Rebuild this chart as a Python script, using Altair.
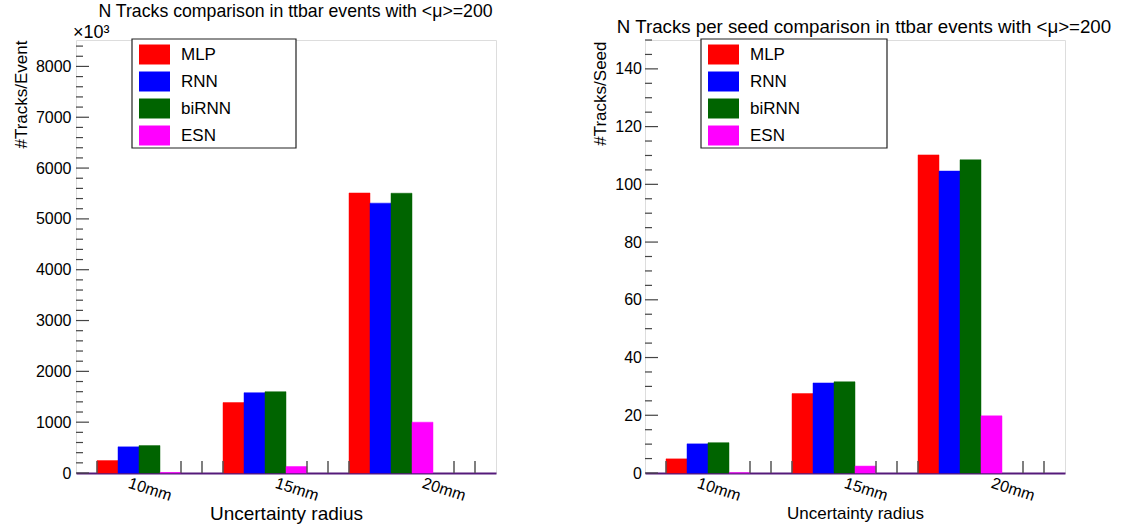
import altair as alt
import pandas as pd

categories = ["10mm", "15mm", "20mm"]
models = ["MLP", "RNN", "biRNN", "ESN"]
colors = ["#ff0000", "#0000ff", "#006400", "#ff00ff"]

# N tracks per event (axis in units of 10^3)
event_mlp = [245, 1385, 5510]
event_rnn = [515, 1580, 5310]
event_birnn = [540, 1600, 5505]
event_esn = [10, 128, 1000]

# N tracks per seed
seed_mlp = [4.9, 27.5, 110.2]
seed_rnn = [10.1, 31.2, 104.6]
seed_birnn = [10.5, 31.6, 108.5]
seed_esn = [0.1, 2.4, 19.8]

FONT = "Liberation Sans"
W, H = 420, 433


def make_df(series):
    rows = []
    for m_i, (model, vals) in enumerate(zip(models, series)):
        for g_i, (cat, v) in enumerate(zip(categories, vals)):
            rows.append({"cat": cat, "g": g_i, "model": model, "m": m_i, "value": v})
    return pd.DataFrame(rows)


def panel(df, ymax, major_step, minor_step, ytitle, title, title_size, title_dx, title_offset,
          legend_right, tick_font, label_pad, ytitle_font, ytitle_x, ytitle_y, xtitle_font,
          extra_text=None):
    label_slots = [3.5, 10.5, 17.5]
    label_expr = " : ".join(
        f"datum.value == {s} ? '{c}'" for s, c in zip(label_slots, categories)
    ) + " : ''"
    yscale = alt.Scale(domain=[0, ymax], nice=False, zero=True)
    xscale = alt.Scale(domain=[0, 20], nice=False, zero=False)

    bars = alt.Chart(df).transform_calculate(
        xs="datum.g * 6 + datum.m + 1", xe="datum.g * 6 + datum.m + 2"
    ).mark_rect(strokeWidth=0.8, strokeOpacity=0.6).encode(
        x=alt.X("xs:Q", scale=xscale,
                axis=alt.Axis(values=label_slots, labelExpr=label_expr, ticks=False, domain=True,
                              domainColor="#551a7a", domainWidth=2,
                              grid=False, labelAngle=18, labelAlign="center", labelBaseline="middle",
                              labelPadding=16, labelFontSize=16, labelFont=FONT, labelColor="black",
                              title="Uncertainty radius", titleFont=FONT, titleFontSize=xtitle_font,
                              titleFontWeight="normal", titleColor="black", titleBaseline="middle",
                              titleY=40)),
        x2="xe:Q",
        y=alt.Y("value:Q", scale=yscale,
                axis=alt.Axis(values=list(range(0, int(ymax) + 1, major_step)), format="d",
                              ticks=False, domain=False, grid=False, labelPadding=label_pad,
                              labelFontSize=tick_font, labelFont=FONT, labelColor="black",
                              title=ytitle, titleFont=FONT, titleFontSize=ytitle_font,
                              titleFontWeight="normal", titleColor="black", titleAnchor="end",
                              titleAlign="right", titleAngle=270, titleBaseline="top",
                              titleX=ytitle_x, titleY=ytitle_y)),
        y2=alt.datum(0),
        color=alt.Color("model:N", scale=alt.Scale(domain=models, range=colors),
                        legend=alt.Legend(orient="none", legendX=63, legendY=-1, title=None,
                                          symbolType="M-1,-0.645H1V0.645H-1Z", symbolSize=961,
                                          symbolStrokeWidth=0, symbolOpacity=1, padding=0,
                                          labelFont=FONT, labelFontSize=17, labelColor="black",
                                          labelOffset=11, rowPadding=1)),
        stroke=alt.Color("model:N", scale=alt.Scale(domain=models, range=colors), legend=None),
    )

    box = alt.Chart(pd.DataFrame({"a": [0]})).mark_rect(
        fill="white", stroke="#222", strokeWidth=1.2
    ).encode(x=alt.value(56), x2=alt.value(legend_right), y=alt.value(-1), y2=alt.value(108))

    majors = list(range(0, int(ymax) + 1, major_step))
    minors = [v for v in range(0, int(ymax) + 1, minor_step) if v % major_step != 0]
    ymaj = alt.Chart(pd.DataFrame({"value": majors})).mark_rule(color="#444", strokeWidth=1.2).encode(
        y=alt.Y("value:Q", scale=yscale), x=alt.value(0), x2=alt.value(13))
    ymin = alt.Chart(pd.DataFrame({"value": minors})).mark_rule(color="#444", strokeWidth=1.2).encode(
        y=alt.Y("value:Q", scale=yscale), x=alt.value(0), x2=alt.value(7))
    xt = alt.Chart(pd.DataFrame({"xs": [1, 5, 6, 7, 11, 12, 13, 18, 19]})).mark_rule(
        color="#555", strokeWidth=1.5).encode(
        x=alt.X("xs:Q", scale=xscale), y=alt.value(H), y2=alt.value(H - 12))

    layers = [bars, box, ymaj, ymin, xt]
    if extra_text:
        layers.append(alt.Chart(pd.DataFrame({"t": [extra_text]})).mark_text(
            font=FONT, fontSize=18, align="left", baseline="middle", color="black"
        ).encode(text="t:N", x=alt.value(-3), y=alt.value(-7)))
    return alt.layer(*layers).properties(
        width=W, height=H,
        title=alt.TitleParams(title, font=FONT, fontSize=title_size, fontWeight="normal",
                              color="black", anchor="middle", dx=title_dx, offset=title_offset),
    )


left = panel(make_df([event_mlp, event_rnn, event_birnn, event_esn]), 8520, 1000, 200,
             "#Tracks/Event", "N Tracks comparison in ttbar events with <\u03bc>=200",
             17.7, 9.5, 3, 220, 16, 5, 17, -63, 0, 19, extra_text="\u00d710\u00b3")
right = panel(make_df([seed_mlp, seed_rnn, seed_birnn, seed_esn]), 150, 20, 5,
              "#Tracks/Seed", "N Tracks per seed comparison in ttbar events with <\u03bc>=200",
              18.7, 9, 2, 242, 16, 3.5, 17, -53, 1, 17)

chart = alt.hconcat(left, right, spacing=93).resolve_scale(
    color="independent", stroke="independent", x="independent", y="independent"
).resolve_legend(color="independent").properties(
    padding={"left": 11, "top": 2, "right": 0, "bottom": 0}
).configure_view(stroke="#333", strokeWidth=1.2).configure(background="white")

chart.save("out.html", embed_options={"renderer": "svg", "actions": False})
